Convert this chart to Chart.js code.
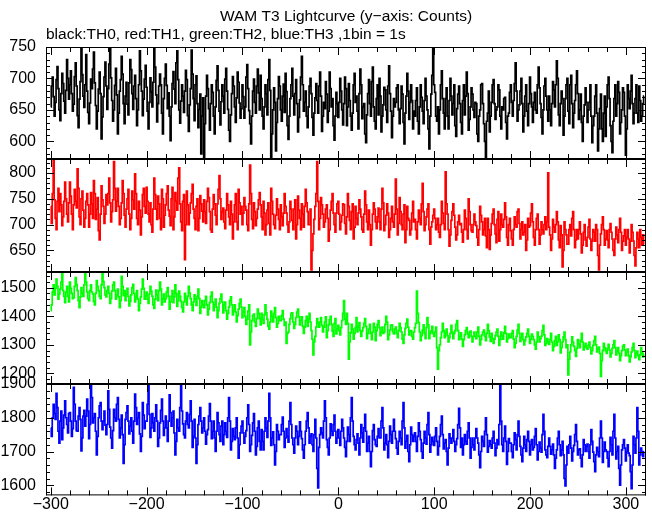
<!DOCTYPE html>
<html>
<head>
<meta charset="utf-8">
<title>WAM T3 Lightcurve</title>
<script src="https://cdn.jsdelivr.net/npm/chart.js@4.4.1/dist/chart.umd.min.js"></script>
<style>
  html, body { margin: 0; padding: 0; background: #fff; }
  #wrap { position: relative; width: 652px; height: 515px; }
  #wrap canvas { position: absolute; left: 0; top: 0; }
</style>
</head>
<body>
<div id="wrap">
  <canvas id="th0" width="652" height="515"></canvas>
  <canvas id="th1" width="652" height="515"></canvas>
  <canvas id="th2" width="652" height="515"></canvas>
  <canvas id="th3" width="652" height="515"></canvas>
</div>
<script>
// time bins (s), 1 bin = 1 s
const timeBins = [
  -300, -299, -298, -297, -296, -295, -294, -293, -292, -291, -290, -289, -288, -287, -286, -285, -284, -283, -282, -281,
  -280, -279, -278, -277, -276, -275, -274, -273, -272, -271, -270, -269, -268, -267, -266, -265, -264, -263, -262, -261,
  -260, -259, -258, -257, -256, -255, -254, -253, -252, -251, -250, -249, -248, -247, -246, -245, -244, -243, -242, -241,
  -240, -239, -238, -237, -236, -235, -234, -233, -232, -231, -230, -229, -228, -227, -226, -225, -224, -223, -222, -221,
  -220, -219, -218, -217, -216, -215, -214, -213, -212, -211, -210, -209, -208, -207, -206, -205, -204, -203, -202, -201,
  -200, -199, -198, -197, -196, -195, -194, -193, -192, -191, -190, -189, -188, -187, -186, -185, -184, -183, -182, -181,
  -180, -179, -178, -177, -176, -175, -174, -173, -172, -171, -170, -169, -168, -167, -166, -165, -164, -163, -162, -161,
  -160, -159, -158, -157, -156, -155, -154, -153, -152, -151, -150, -149, -148, -147, -146, -145, -144, -143, -142, -141,
  -140, -139, -138, -137, -136, -135, -134, -133, -132, -131, -130, -129, -128, -127, -126, -125, -124, -123, -122, -121,
  -120, -119, -118, -117, -116, -115, -114, -113, -112, -111, -110, -109, -108, -107, -106, -105, -104, -103, -102, -101,
  -100, -99, -98, -97, -96, -95, -94, -93, -92, -91, -90, -89, -88, -87, -86, -85, -84, -83, -82, -81,
  -80, -79, -78, -77, -76, -75, -74, -73, -72, -71, -70, -69, -68, -67, -66, -65, -64, -63, -62, -61,
  -60, -59, -58, -57, -56, -55, -54, -53, -52, -51, -50, -49, -48, -47, -46, -45, -44, -43, -42, -41,
  -40, -39, -38, -37, -36, -35, -34, -33, -32, -31, -30, -29, -28, -27, -26, -25, -24, -23, -22, -21,
  -20, -19, -18, -17, -16, -15, -14, -13, -12, -11, -10, -9, -8, -7, -6, -5, -4, -3, -2, -1,
  0, 1, 2, 3, 4, 5, 6, 7, 8, 9, 10, 11, 12, 13, 14, 15, 16, 17, 18, 19,
  20, 21, 22, 23, 24, 25, 26, 27, 28, 29, 30, 31, 32, 33, 34, 35, 36, 37, 38, 39,
  40, 41, 42, 43, 44, 45, 46, 47, 48, 49, 50, 51, 52, 53, 54, 55, 56, 57, 58, 59,
  60, 61, 62, 63, 64, 65, 66, 67, 68, 69, 70, 71, 72, 73, 74, 75, 76, 77, 78, 79,
  80, 81, 82, 83, 84, 85, 86, 87, 88, 89, 90, 91, 92, 93, 94, 95, 96, 97, 98, 99,
  100, 101, 102, 103, 104, 105, 106, 107, 108, 109, 110, 111, 112, 113, 114, 115, 116, 117, 118, 119,
  120, 121, 122, 123, 124, 125, 126, 127, 128, 129, 130, 131, 132, 133, 134, 135, 136, 137, 138, 139,
  140, 141, 142, 143, 144, 145, 146, 147, 148, 149, 150, 151, 152, 153, 154, 155, 156, 157, 158, 159,
  160, 161, 162, 163, 164, 165, 166, 167, 168, 169, 170, 171, 172, 173, 174, 175, 176, 177, 178, 179,
  180, 181, 182, 183, 184, 185, 186, 187, 188, 189, 190, 191, 192, 193, 194, 195, 196, 197, 198, 199,
  200, 201, 202, 203, 204, 205, 206, 207, 208, 209, 210, 211, 212, 213, 214, 215, 216, 217, 218, 219,
  220, 221, 222, 223, 224, 225, 226, 227, 228, 229, 230, 231, 232, 233, 234, 235, 236, 237, 238, 239,
  240, 241, 242, 243, 244, 245, 246, 247, 248, 249, 250, 251, 252, 253, 254, 255, 256, 257, 258, 259,
  260, 261, 262, 263, 264, 265, 266, 267, 268, 269, 270, 271, 272, 273, 274, 275, 276, 277, 278, 279,
  280, 281, 282, 283, 284, 285, 286, 287, 288, 289, 290, 291, 292, 293, 294, 295, 296, 297, 298, 299,
  300, 301, 302, 303, 304, 305, 306, 307, 308, 309, 310, 311, 312, 313, 314, 315, 316, 317, 318, 319
];

// TH0 counts (black)
const th0Counts = [
  655, 688, 702, 671, 640, 662, 698, 719, 684, 650, 633, 676, 708, 692, 664, 645, 681, 730, 700, 667,
  690, 712, 676, 648, 659, 703, 725, 688, 641, 622, 667, 695, 752, 706, 672, 654, 690, 738, 680, 646,
  628, 661, 699, 684, 715, 742, 693, 657, 620, 648, 683, 710, 676, 604, 639, 671, 702, 726, 688, 651,
  684, 723, 748, 701, 665, 632, 650, 689, 716, 674, 612, 645, 680, 698, 735, 707, 660, 628, 672, 694,
  659, 642, 693, 730, 714, 676, 651, 688, 705, 668, 625, 650, 690, 744, 712, 680, 641, 667, 699, 721,
  686, 648, 620, 662, 701, 679, 655, 694, 752, 718, 674, 631, 660, 688, 707, 690, 645, 612, 668, 700,
  723, 689, 652, 677, 640, 601, 655, 692, 711, 683, 660, 725, 744, 698, 650, 629, 664, 690, 672, 646,
  680, 713, 698, 641, 616, 658, 684, 745, 707, 668, 633, 690, 704, 660, 622, 651, 675, 580, 640, 669,
  575, 628, 672, 705, 684, 652, 618, 660, 690, 678, 640, 612, 655, 697, 720, 681, 648, 626, 663, 690,
  672, 645, 699, 716, 680, 651, 618, 600, 642, 676, 703, 688, 655, 630, 669, 710, 694, 661, 637, 652,
  690, 671, 637, 655, 702, 722, 684, 649, 628, 596, 640, 680, 699, 662, 645, 688, 715, 677, 650, 705,
  668, 640, 620, 655, 690, 676, 642, 698, 730, 681, 572, 612, 650, 685, 662, 585, 630, 668, 703, 688,
  650, 632, 672, 691, 646, 708, 679, 625, 603, 640, 668, 690, 716, 672, 642, 676, 698, 660, 615, 638,
  666, 702, 735, 690, 648, 662, 680, 640, 622, 655, 688, 700, 676, 638, 610, 645, 669, 692, 665, 645,
  688, 710, 672, 616, 640, 662, 652, 695, 675, 630, 648, 710, 684, 655, 668, 625, 602, 640, 678, 660,
  638, 662, 700, 680, 650, 626, 660, 702, 684, 625, 655, 692, 665, 640, 618, 645, 690, 708, 662, 672,
  648, 620, 676, 715, 690, 636, 655, 660, 612, 598, 642, 676, 698, 660, 640, 695, 718, 655, 632, 620,
  668, 690, 642, 700, 672, 615, 640, 658, 686, 682, 650, 630, 688, 720, 676, 648, 606, 640, 668, 655,
  662, 685, 690, 650, 628, 652, 688, 675, 630, 596, 645, 672, 708, 680, 635, 662, 690, 665, 620, 648,
  640, 665, 685, 632, 612, 655, 690, 670, 648, 628, 665, 700, 672, 650, 620, 588, 640, 675, 705, 748,
  690, 678, 640, 632, 655, 612, 650, 690, 712, 668, 645, 620, 668, 685, 640, 620, 665, 700, 672, 642,
  660, 690, 625, 608, 652, 675, 688, 660, 630, 612, 665, 690, 642, 672, 710, 676, 618, 635, 655, 685,
  675, 650, 638, 662, 660, 612, 600, 640, 650, 690, 692, 660, 628, 600, 575, 632, 645, 680, 615, 640,
  662, 690, 698, 660, 635, 650, 655, 690, 682, 640, 620, 655, 650, 668, 670, 630, 604, 640, 645, 678,
  690, 662, 640, 665, 692, 725, 680, 632, 650, 658, 680, 700, 660, 615, 640, 672, 690, 648, 625, 660,
  702, 676, 655, 630, 662, 678, 650, 645, 690, 718, 685, 660, 638, 612, 650, 688, 700, 672, 650, 632,
  672, 650, 625, 660, 695, 682, 655, 690, 728, 700, 642, 625, 660, 680, 668, 610, 640, 668, 690, 700,
  648, 628, 690, 705, 660, 622, 645, 665, 690, 712, 676, 635, 650, 675, 630, 600, 640, 658, 685, 662,
  630, 650, 662, 690, 640, 598, 625, 640, 672, 690, 645, 585, 620, 652, 675, 620, 600, 645, 672, 608,
  655, 690, 702, 668, 625, 600, 582, 632, 668, 690, 640, 660, 695, 678, 612, 630, 650, 685, 678, 640,
  578, 620, 690, 668, 652, 680, 705, 660, 628, 645, 668, 690, 645, 630, 688, 665, 632, 640, 660, 672
];

// TH1 counts (red)
const th1Counts = [
  735, 702, 760, 826, 748, 712, 690, 745, 770, 725, 760, 738, 698, 715, 745, 782, 750, 720, 705, 742,
  782, 755, 720, 690, 738, 768, 745, 732, 808, 770, 715, 700, 750, 765, 728, 695, 712, 745, 760, 738,
  695, 720, 762, 740, 712, 785, 760, 710, 730, 752, 688, 670, 720, 775, 748, 735, 702, 720, 758, 738,
  760, 790, 742, 705, 725, 748, 822, 770, 726, 745, 770, 735, 700, 712, 742, 785, 760, 718, 695, 730,
  750, 768, 720, 690, 712, 765, 748, 730, 798, 760, 712, 700, 745, 728, 680, 715, 758, 770, 735, 722,
  772, 745, 720, 705, 742, 700, 685, 730, 790, 758, 730, 710, 755, 740, 712, 690, 768, 750, 695, 718,
  738, 760, 775, 728, 716, 698, 750, 772, 690, 715, 762, 745, 728, 790, 810, 740, 705, 688, 745, 758,
  632, 700, 765, 738, 700, 722, 742, 760, 778, 730, 712, 690, 735, 750, 688, 712, 756, 740, 726, 705,
  748, 725, 702, 745, 770, 752, 725, 690, 685, 730, 758, 740, 718, 700, 740, 768, 795, 750, 710, 725,
  732, 705, 692, 728, 760, 738, 715, 700, 745, 720, 672, 705, 738, 760, 705, 690, 768, 742, 720, 735,
  700, 722, 752, 735, 728, 700, 688, 740, 815, 760, 710, 692, 742, 725, 698, 712, 730, 748, 762, 738,
  715, 690, 745, 722, 680, 700, 728, 742, 702, 680, 770, 745, 720, 700, 692, 718, 750, 730, 710, 690,
  738, 715, 698, 722, 760, 735, 722, 700, 685, 705, 745, 730, 708, 690, 730, 748, 672, 700, 755, 728,
  712, 690, 740, 720, 695, 735, 768, 742, 725, 700, 700, 730, 612, 650, 682, 710, 735, 760, 822, 745,
  690, 712, 752, 738, 720, 695, 705, 730, 738, 712, 668, 690, 728, 745, 760, 722, 700, 685, 722, 740,
  745, 720, 690, 705, 718, 740, 738, 702, 682, 715, 760, 735, 708, 690, 725, 740, 672, 695, 735, 712,
  700, 722, 748, 730, 715, 690, 685, 720, 765, 738, 705, 690, 728, 700, 660, 690, 720, 742, 730, 705,
  692, 715, 732, 705, 690, 730, 770, 742, 688, 700, 718, 740, 722, 675, 690, 712, 735, 705, 695, 720,
  788, 730, 680, 702, 752, 725, 700, 690, 720, 738, 665, 690, 735, 712, 708, 680, 690, 722, 745, 705,
  710, 690, 672, 705, 728, 712, 700, 740, 780, 725, 688, 700, 715, 730, 740, 690, 662, 695, 705, 718,
  730, 712, 690, 700, 712, 685, 675, 700, 745, 722, 702, 690, 802, 740, 720, 690, 658, 680, 708, 725,
  740, 718, 695, 670, 680, 705, 718, 700, 702, 685, 666, 690, 728, 712, 690, 672, 750, 725, 700, 688,
  685, 700, 720, 705, 698, 675, 660, 690, 735, 718, 705, 680, 690, 712, 678, 655, 712, 690, 652, 680,
  702, 720, 730, 700, 682, 665, 710, 725, 668, 690, 720, 700, 695, 710, 742, 715, 675, 660, 700, 712,
  688, 672, 660, 690, 715, 700, 695, 725, 730, 702, 672, 690, 705, 680, 685, 700, 650, 670, 712, 695,
  698, 722, 740, 705, 675, 660, 690, 712, 720, 690, 662, 680, 705, 690, 682, 700, 715, 690, 705, 800,
  695, 680, 650, 672, 710, 695, 685, 700, 725, 705, 670, 655, 698, 680, 618, 650, 705, 690, 680, 662,
  662, 690, 700, 678, 712, 725, 690, 655, 670, 690, 672, 690, 705, 682, 645, 660, 685, 700, 670, 658,
  675, 695, 710, 672, 650, 668, 690, 685, 668, 700, 690, 640, 612, 660, 682, 700, 715, 690, 660, 672,
  688, 670, 655, 690, 702, 685, 672, 650, 640, 672, 695, 680, 665, 690, 712, 685, 650, 668, 678, 690,
  660, 675, 690, 672, 645, 668, 700, 685, 668, 640, 620, 655, 685, 672, 655, 690, 675, 660, 680, 662
];

// TH2 counts (green)
const th2Counts = [
  1420, 1440, 1485, 1510, 1475, 1498, 1530, 1505, 1460, 1478, 1495, 1520, 1555, 1490, 1470, 1448, 1485, 1505, 1470, 1450,
  1520, 1498, 1480, 1462, 1465, 1505, 1535, 1512, 1490, 1455, 1430, 1468, 1500, 1482, 1470, 1510, 1550, 1520, 1485, 1462,
  1455, 1490, 1510, 1485, 1478, 1452, 1440, 1480, 1525, 1505, 1490, 1470, 1462, 1510, 1555, 1522, 1500, 1475, 1468, 1490,
  1505, 1480, 1445, 1462, 1488, 1510, 1520, 1490, 1460, 1475, 1495, 1468, 1430, 1455, 1540, 1505, 1472, 1490, 1455, 1478,
  1498, 1470, 1436, 1452, 1475, 1500, 1512, 1480, 1450, 1466, 1490, 1460, 1420, 1445, 1468, 1495, 1530, 1498, 1460, 1472,
  1485, 1460, 1445, 1478, 1505, 1488, 1470, 1440, 1428, 1460, 1492, 1475, 1455, 1490, 1520, 1495, 1440, 1462, 1478, 1450,
  1462, 1485, 1500, 1470, 1425, 1450, 1470, 1490, 1448, 1468, 1510, 1480, 1435, 1455, 1488, 1470, 1452, 1430, 1415, 1450,
  1480, 1462, 1440, 1470, 1505, 1482, 1462, 1440, 1420, 1450, 1475, 1460, 1438, 1470, 1495, 1462, 1410, 1432, 1455, 1440,
  1430, 1455, 1470, 1440, 1405, 1425, 1448, 1470, 1485, 1450, 1420, 1440, 1460, 1432, 1395, 1420, 1445, 1462, 1478, 1450,
  1412, 1440, 1450, 1420, 1390, 1410, 1432, 1455, 1468, 1440, 1405, 1420, 1440, 1415, 1380, 1402, 1425, 1445, 1460, 1432,
  1395, 1415, 1430, 1400, 1372, 1390, 1418, 1440, 1300, 1345, 1385, 1402, 1408, 1380, 1365, 1392, 1425, 1410, 1392, 1370,
  1410, 1390, 1375, 1405, 1440, 1412, 1390, 1365, 1355, 1380, 1418, 1400, 1380, 1410, 1430, 1395, 1362, 1375, 1400, 1385,
  1385, 1402, 1420, 1390, 1368, 1380, 1305, 1340, 1345, 1372, 1392, 1410, 1412, 1380, 1358, 1372, 1395, 1415, 1425, 1398,
  1370, 1385, 1398, 1365, 1340, 1362, 1385, 1400, 1365, 1390, 1410, 1380, 1350, 1320, 1265, 1310, 1330, 1362, 1392, 1375,
  1362, 1380, 1395, 1368, 1345, 1362, 1380, 1398, 1325, 1350, 1370, 1388, 1400, 1372, 1348, 1330, 1375, 1392, 1338, 1355,
  1368, 1350, 1335, 1360, 1385, 1410, 1455, 1390, 1372, 1410, 1375, 1250, 1310, 1342, 1372, 1355, 1320, 1340, 1360, 1395,
  1345, 1362, 1378, 1350, 1330, 1348, 1360, 1375, 1392, 1365, 1322, 1340, 1355, 1372, 1340, 1318, 1345, 1375, 1362, 1315,
  1350, 1372, 1385, 1360, 1332, 1345, 1362, 1340, 1345, 1372, 1400, 1380, 1318, 1335, 1352, 1368, 1370, 1345, 1338, 1355,
  1362, 1340, 1325, 1350, 1375, 1360, 1345, 1320, 1305, 1335, 1358, 1375, 1390, 1362, 1335, 1348, 1350, 1330, 1320, 1345,
  1360, 1375, 1488, 1410, 1378, 1345, 1315, 1332, 1352, 1370, 1340, 1322, 1360, 1395, 1370, 1322, 1340, 1348, 1365, 1340,
  1330, 1345, 1362, 1290, 1215, 1280, 1300, 1325, 1345, 1375, 1350, 1325, 1340, 1355, 1332, 1310, 1325, 1340, 1368, 1345,
  1322, 1340, 1350, 1372, 1385, 1350, 1318, 1330, 1342, 1320, 1295, 1318, 1335, 1350, 1360, 1338, 1325, 1345, 1348, 1330,
  1310, 1330, 1345, 1330, 1322, 1345, 1362, 1330, 1300, 1318, 1335, 1345, 1352, 1330, 1315, 1340, 1372, 1350, 1328, 1312,
  1340, 1322, 1305, 1320, 1332, 1345, 1355, 1330, 1298, 1318, 1345, 1332, 1320, 1342, 1365, 1340, 1310, 1322, 1338, 1325,
  1325, 1340, 1350, 1320, 1290, 1305, 1330, 1352, 1372, 1340, 1312, 1325, 1340, 1318, 1300, 1315, 1328, 1340, 1355, 1330,
  1305, 1320, 1338, 1330, 1318, 1300, 1285, 1310, 1345, 1328, 1310, 1322, 1330, 1350, 1368, 1335, 1298, 1305, 1322, 1310,
  1302, 1318, 1340, 1310, 1280, 1295, 1315, 1330, 1298, 1310, 1335, 1318, 1272, 1290, 1310, 1328, 1345, 1318, 1290, 1300,
  1195, 1250, 1275, 1300, 1328, 1310, 1295, 1280, 1260, 1288, 1318, 1302, 1290, 1315, 1340, 1310, 1282, 1295, 1305, 1290,
  1285, 1298, 1310, 1290, 1268, 1280, 1298, 1315, 1330, 1300, 1275, 1285, 1292, 1270, 1190, 1245, 1280, 1305, 1290, 1280,
  1270, 1288, 1302, 1282, 1258, 1270, 1288, 1300, 1315, 1290, 1265, 1278, 1290, 1270, 1245, 1262, 1280, 1295, 1300, 1282,
  1262, 1275, 1285, 1262, 1240, 1258, 1275, 1290, 1305, 1280, 1255, 1270, 1278, 1262, 1248, 1265, 1290, 1272, 1258, 1268
];

// TH3 counts (blue)
const th3Counts = [
  1770, 1745, 1800, 1840, 1812, 1795, 1872, 1830, 1760, 1725, 1790, 1820, 1735, 1770, 1808, 1850, 1800, 1780, 1755, 1812,
  1815, 1790, 1745, 1768, 1890, 1840, 1790, 1762, 1760, 1805, 1830, 1795, 1702, 1740, 1805, 1822, 1775, 1805, 1855, 1820,
  1738, 1780, 1900, 1860, 1785, 1800, 1812, 1760, 1690, 1745, 1800, 1835, 1845, 1790, 1765, 1790, 1820, 1778, 1750, 1780,
  1880, 1825, 1772, 1740, 1710, 1762, 1825, 1800, 1790, 1840, 1860, 1795, 1740, 1770, 1808, 1750, 1665, 1720, 1795, 1815,
  1835, 1790, 1752, 1775, 1800, 1760, 1725, 1790, 1870, 1830, 1780, 1800, 1815, 1752, 1700, 1745, 1845, 1808, 1768, 1790,
  1790, 1840, 1895, 1810, 1742, 1770, 1812, 1785, 1760, 1800, 1838, 1790, 1715, 1740, 1785, 1822, 1855, 1790, 1748, 1770,
  1805, 1770, 1730, 1790, 1868, 1815, 1775, 1800, 1820, 1755, 1690, 1730, 1795, 1770, 1760, 1830, 1900, 1820, 1782, 1750,
  1740, 1790, 1815, 1780, 1770, 1810, 1850, 1790, 1712, 1745, 1795, 1740, 1665, 1720, 1780, 1805, 1830, 1790, 1755, 1770,
  1800, 1760, 1722, 1750, 1765, 1805, 1842, 1790, 1738, 1760, 1790, 1740, 1700, 1760, 1815, 1785, 1750, 1730, 1775, 1790,
  1720, 1750, 1785, 1760, 1742, 1800, 1860, 1790, 1705, 1730, 1768, 1745, 1735, 1770, 1800, 1740, 1680, 1720, 1755, 1775,
  1790, 1755, 1725, 1745, 1762, 1800, 1838, 1780, 1700, 1720, 1748, 1785, 1812, 1760, 1690, 1715, 1770, 1790, 1730, 1705,
  1765, 1730, 1705, 1760, 1800, 1770, 1742, 1790, 1872, 1800, 1718, 1740, 1758, 1720, 1660, 1700, 1780, 1760, 1735, 1750,
  1750, 1780, 1802, 1760, 1712, 1740, 1768, 1745, 1728, 1790, 1845, 1780, 1740, 1720, 1695, 1740, 1775, 1760, 1720, 1745,
  1788, 1760, 1738, 1705, 1680, 1720, 1760, 1790, 1815, 1770, 1725, 1745, 1752, 1720, 1700, 1750, 1795, 1740, 1650, 1592,
  1712, 1750, 1770, 1755, 1740, 1790, 1850, 1800, 1735, 1712, 1690, 1740, 1782, 1760, 1748, 1780, 1808, 1760, 1725, 1740,
  1765, 1740, 1718, 1760, 1795, 1770, 1740, 1712, 1685, 1730, 1772, 1750, 1730, 1800, 1860, 1790, 1745, 1720, 1705, 1735,
  1752, 1725, 1690, 1740, 1780, 1755, 1728, 1770, 1810, 1760, 1700, 1725, 1745, 1700, 1655, 1700, 1762, 1780, 1735, 1720,
  1715, 1745, 1768, 1740, 1740, 1790, 1830, 1770, 1705, 1725, 1750, 1720, 1682, 1730, 1775, 1750, 1725, 1760, 1795, 1760,
  1738, 1710, 1692, 1730, 1760, 1740, 1720, 1790, 1845, 1770, 1710, 1730, 1748, 1700, 1670, 1720, 1772, 1750, 1730, 1745,
  1755, 1730, 1700, 1745, 1785, 1760, 1735, 1700, 1680, 1725, 1760, 1740, 1722, 1780, 1815, 1750, 1698, 1720, 1742, 1730,
  1718, 1745, 1770, 1730, 1690, 1715, 1745, 1780, 1805, 1750, 1708, 1725, 1735, 1700, 1660, 1710, 1752, 1740, 1725, 1740,
  1765, 1730, 1700, 1720, 1738, 1780, 1828, 1770, 1712, 1740, 1690, 1720, 1750, 1730, 1722, 1760, 1785, 1740, 1680, 1712,
  1740, 1720, 1705, 1740, 1768, 1740, 1725, 1690, 1652, 1700, 1745, 1730, 1715, 1760, 1800, 1750, 1698, 1715, 1732, 1720,
  1710, 1740, 1760, 1725, 1688, 1710, 1735, 1720, 1780, 1895, 1790, 1720, 1700, 1740, 1775, 1730, 1662, 1700, 1738, 1725,
  1725, 1700, 1682, 1720, 1755, 1735, 1705, 1750, 1790, 1745, 1715, 1690, 1670, 1710, 1745, 1720, 1700, 1735, 1760, 1730,
  1690, 1720, 1735, 1705, 1712, 1745, 1768, 1720, 1675, 1700, 1728, 1710, 1698, 1750, 1810, 1760, 1705, 1690, 1682, 1715,
  1740, 1715, 1692, 1705, 1722, 1690, 1650, 1680, 1705, 1740, 1760, 1720, 1688, 1705, 1730, 1690, 1620, 1598, 1660, 1715,
  1695, 1720, 1745, 1710, 1672, 1700, 1718, 1750, 1780, 1730, 1690, 1705, 1708, 1680, 1655, 1690, 1735, 1720, 1700, 1715,
  1722, 1700, 1680, 1720, 1765, 1730, 1698, 1670, 1640, 1690, 1712, 1700, 1685, 1740, 1790, 1740, 1668, 1700, 1728, 1705,
  1700, 1680, 1655, 1700, 1742, 1720, 1690, 1760, 1810, 1740, 1678, 1700, 1715, 1650, 1600, 1660, 1705, 1720, 1735, 1710,
  1672, 1700, 1720, 1695, 1688, 1640, 1590, 1660, 1745, 1720, 1695, 1740, 1830, 1760, 1660, 1690, 1710, 1700, 1685, 1700
];

// tick labels
const timeTicks = [-300, -200, -100, 0, 100, 200, 300];
const th0Ticks = [600, 650, 700, 750];
const th1Ticks = [650, 700, 750, 800];
const th2Ticks = [1200, 1300, 1400, 1500];
const th3Ticks = [1600, 1700, 1800, 1900];

const titleText = 'WAM T3 Lightcurve (y\u2212axis: Counts)';
const subtitleText = 'black:TH0, red:TH1, green:TH2, blue:TH3 ,1bin = 1s';

Chart.defaults.font.family = "'Liberation Sans', Arial, Helvetica, sans-serif";
Chart.defaults.color = '#000';

const W = 652, H = 515;

// one canvas per panel, all stacked on each other
const panels = [
  { id: 'th0', counts: th0Counts, color: '#000000', min: 572, max: 750, ticks: th0Ticks, minor: 10, major: 50, top: 47, bottom: 159, first: true },
  { id: 'th1', counts: th1Counts, color: '#ff0000', min: 608, max: 827, ticks: th1Ticks, minor: 10, major: 50, top: 159, bottom: 272 },
  { id: 'th2', counts: th2Counts, color: '#00ff00', min: 1163, max: 1555, ticks: th2Ticks, minor: 20, major: 100, top: 272, bottom: 384 },
  { id: 'th3', counts: th3Counts, color: '#0000ff', min: 1570, max: 1900, ticks: th3Ticks, minor: 20, major: 100, top: 384, bottom: 496, last: true }
];

const minusSign = v => (v < 0 ? '\u2212' + Math.abs(v) : String(v));

// frame + inward tick marks on all four sides
const frameTicks = {
  id: 'frameTicks',
  afterDatasetsDraw(chart, args, opts) {
    const ctx = chart.ctx;
    const a = chart.chartArea;
    const xs = chart.scales.x, ys = chart.scales.y;
    ctx.save();
    ctx.strokeStyle = '#000';
    ctx.lineWidth = 1;
    ctx.beginPath();
    for (let t = -300; t <= xs.max; t += 20) {
      const px = Math.round(xs.getPixelForValue(t)) + 0.5;
      const len = t % 100 === 0 ? 8 : 5;
      ctx.moveTo(px, a.top); ctx.lineTo(px, a.top + len);
      ctx.moveTo(px, a.bottom); ctx.lineTo(px, a.bottom - len);
    }
    for (let v = Math.ceil(ys.min / opts.minor) * opts.minor; v <= ys.max; v += opts.minor) {
      const py = Math.round(ys.getPixelForValue(v)) + 0.5;
      const len = v % opts.major === 0 ? 8 : 4;
      ctx.moveTo(a.left, py); ctx.lineTo(a.left + len, py);
      ctx.moveTo(a.right, py); ctx.lineTo(a.right - len, py);
    }
    ctx.moveTo(a.left + 0.5, a.top); ctx.lineTo(a.left + 0.5, a.bottom);
    ctx.moveTo(a.right - 0.5, a.top); ctx.lineTo(a.right - 0.5, a.bottom);
    ctx.stroke();

    // top and bottom edges: panel separators are thicker
    ctx.beginPath();
    ctx.lineWidth = opts.first ? 1 : 2;
    const yt = opts.first ? a.top + 0.5 : a.top;
    ctx.moveTo(a.left, yt); ctx.lineTo(a.right, yt);
    ctx.stroke();
    ctx.beginPath();
    ctx.lineWidth = opts.last ? 1 : 2;
    const yb = opts.last ? a.bottom - 0.5 : a.bottom;
    ctx.moveTo(a.left, yb); ctx.lineTo(a.right, yb);
    ctx.stroke();
    ctx.restore();
  }
};

function buildPanel(p) {
  const ctx = document.getElementById(p.id).getContext('2d');
  const titleFont = { size: 15.5, weight: 'normal', lineHeight: '18px' };

  new Chart(ctx, {
    type: 'line',
    data: {
      datasets: [{
        data: timeBins.map((t, i) => ({ x: t, y: p.counts[i] })),
        borderColor: p.color,
        borderWidth: 1.7,
        stepped: 'middle',
        pointRadius: 0,
        clip: 0
      }]
    },
    options: {
      responsive: false,
      animation: false,
      devicePixelRatio: 1,
      layout: {
        padding: {
          left: 0,
          right: W - 646,
          top: p.first ? 0 : p.top,
          bottom: p.last ? 0 : H - p.bottom
        }
      },
      scales: {
        x: {
          type: 'linear',
          min: -305,
          max: 321,
          display: !!p.last,
          grid: { display: false, drawTicks: false },
          border: { display: false },
          afterBuildTicks: s => { s.ticks = timeTicks.map(v => ({ value: v })); },
          afterFit: s => { if (p.last) s.height = H - p.bottom; },
          ticks: {
            font: { size: 16, lineHeight: 1 },
            padding: 1,
            maxRotation: 0,
            autoSkip: false,
            callback: minusSign
          }
        },
        y: {
          type: 'linear',
          min: p.min,
          max: p.max,
          grid: { display: false, drawTicks: false },
          border: { display: false },
          afterBuildTicks: s => { s.ticks = p.ticks.map(v => ({ value: v })); },
          afterFit: s => { s.width = 46; },
          ticks: {
            font: { size: 16 },
            padding: 10,
            autoSkip: false,
            callback: v => String(v)
          }
        }
      },
      plugins: {
        legend: { display: false },
        tooltip: { enabled: false },
        title: {
          display: !!p.first,
          text: titleText,
          fullSize: false,
          color: '#000',
          font: titleFont,
          padding: { top: 8, bottom: 0 }
        },
        subtitle: {
          display: !!p.first,
          text: subtitleText,
          align: 'start',
          fullSize: false,
          color: '#000',
          font: titleFont,
          padding: { top: 0, bottom: 3 }
        },
        frameTicks: { minor: p.minor, major: p.major, first: !!p.first, last: !!p.last }
      }
    },
    plugins: [frameTicks]
  });
}

window.onload = function() {
  panels.forEach(buildPanel);
};
</script>
</body>
</html>
